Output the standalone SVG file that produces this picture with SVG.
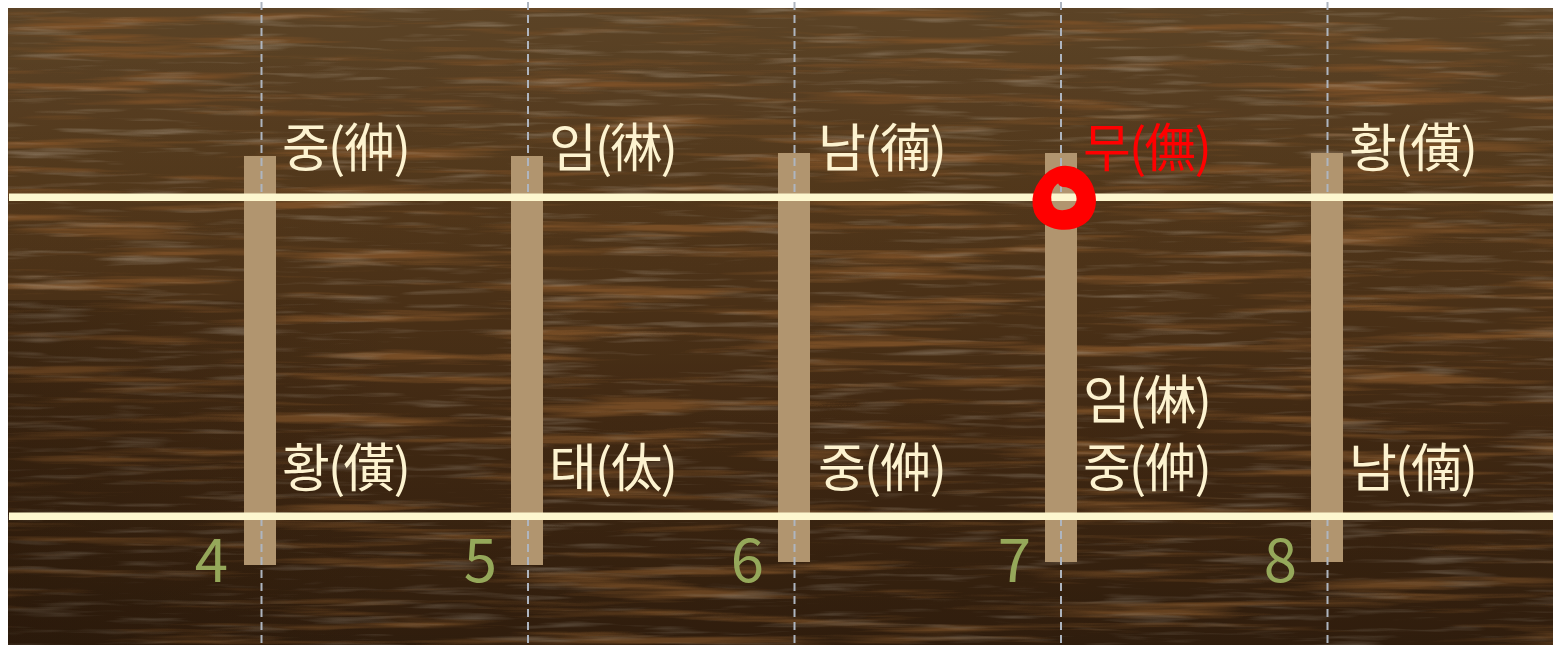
<svg xmlns="http://www.w3.org/2000/svg" width="1561" height="645" viewBox="0 0 1561 645">
<defs>
<linearGradient id="woodBase" x1="0" y1="0" x2="0" y2="1">
<stop offset="0" stop-color="#5b4326"/>
<stop offset="0.3" stop-color="#53381b"/>
<stop offset="0.65" stop-color="#462c14"/>
<stop offset="1" stop-color="#3b2410"/>
</linearGradient>
<linearGradient id="sideShade" x1="0" y1="0" x2="1" y2="0">
<stop offset="0" stop-color="#1a0e04" stop-opacity="0.25"/>
<stop offset="0.25" stop-color="#1a0e04" stop-opacity="0"/>
<stop offset="1" stop-color="#1a0e04" stop-opacity="0"/>
</linearGradient>
<filter id="grainDark" filterUnits="userSpaceOnUse" x="8" y="8" width="1545" height="637">
<feTurbulence type="fractalNoise" baseFrequency="0.004 0.085" numOctaves="4" seed="7"/>
<feColorMatrix type="matrix" values="0 0 0 0 0.2  0 0 0 0 0.08  0 0 0 0 0.02  4 0 0 0 -2.1"/>
</filter>
<filter id="grainLight" filterUnits="userSpaceOnUse" x="8" y="8" width="1545" height="637">
<feTurbulence type="fractalNoise" baseFrequency="0.01 0.14" numOctaves="3" seed="21"/>
<feColorMatrix type="matrix" values="0 0 0 0 0.52  0 0 0 0 0.44  0 0 0 0 0.34  1.1 0 0 0 -0.6"/>
</filter>
<linearGradient id="shade" x1="0" y1="0" x2="0" y2="1">
<stop offset="0" stop-color="#000" stop-opacity="0"/>
<stop offset="0.55" stop-color="#000" stop-opacity="0.05"/>
<stop offset="1" stop-color="#000" stop-opacity="0.2"/>
</linearGradient>
</defs>
<style>
.bar{fill:#b1956f}
.dash{stroke:#aeb5c0;stroke-width:2;stroke-dasharray:8 5;fill:none}
.str{fill:#fdf7cf}
.lbl{font-family:"Noto Sans CJK KR","Noto Sans CJK SC",sans-serif;font-size:52px;letter-spacing:-2px;fill:#fdf3d0}
.red{fill:#ff0000}
.num{font-family:"Noto Sans CJK KR","Noto Sans",sans-serif;font-size:60px;fill:#95a85a;text-anchor:end}
</style>
<rect width="1561" height="645" fill="#ffffff"/>
<g id="wood">
<rect x="8" y="8" width="1545" height="637" fill="url(#woodBase)"/>
<rect x="8" y="8" width="1545" height="637" filter="url(#grainDark)"/>
<rect x="8" y="8" width="1545" height="637" filter="url(#grainLight)"/>
<rect x="8" y="8" width="1545" height="637" fill="url(#shade)"/>
<rect x="8" y="300" width="1545" height="345" fill="url(#sideShade)"/>
</g>
<g id="frets">
<rect id="fret4" class="bar" x="244" y="156" width="32" height="409"/>
<rect id="fret5" class="bar" x="511" y="156" width="32" height="409"/>
<rect id="fret6" class="bar" x="778" y="153" width="32" height="409"/>
<rect id="fret7" class="bar" x="1045" y="153" width="32" height="409"/>
<rect id="fret8" class="bar" x="1311" y="153" width="32" height="409"/>
</g>
<g id="guides">
<path class="dash" d="M261.5,2V197M261.5,518V645"/>
<path class="dash" d="M528,2V197M528,518V645"/>
<path class="dash" d="M794.5,2V197M794.5,518V645"/>
<path class="dash" d="M1061,2V197M1061,518V645"/>
<path class="dash" d="M1327.5,2V197M1327.5,518V645"/>
</g>
<g id="strings">
<rect class="str" x="9" y="193.5" width="1544" height="7.5"/>
<rect class="str" x="9" y="512.5" width="1544" height="7.5"/>
</g>
<g id="col4">
<text class="lbl" x="282" y="167">중(&#x38E1;)</text>
<text class="lbl" x="282" y="487">황(&#x50D9;)</text>
<text class="num" x="228" y="582">4</text>
</g>
<g id="col5">
<text class="lbl" x="549" y="167">임(&#x38E9;)</text>
<text class="lbl" x="549" y="487">태(&#x3440;)</text>
<text class="num" x="497" y="582">5</text>
</g>
<g id="col6">
<text class="lbl" x="818" y="167">남(&#x38EE;)</text>
<text class="lbl" x="818" y="487">중(&#x3456;)</text>
<text class="num" x="764" y="582">6</text>
</g>
<g id="col7">
<text class="lbl red" x="1083" y="167">무(&#x3487;)</text>
<text class="lbl" x="1083" y="419">임(&#x3463;)</text>
<text class="lbl" x="1083" y="487">중(&#x3456;)</text>
<text class="num" x="1031" y="582">7</text>
</g>
<g id="col8">
<text class="lbl" x="1349" y="167">황(&#x50D9;)</text>
<text class="lbl" x="1349" y="487">남(&#x3472;)</text>
<text class="num" x="1297" y="582">8</text>
</g>
<g id="mark">
<path d="M1058,175 C1042,178 1034,196 1039,211 C1045,226 1072,230 1085,217 C1096,204 1091,180 1073,172 C1058,167 1043,178 1041,193 C1039,208 1050,221 1067,220 C1082,219 1092,206 1088,191 C1085,179 1069,172 1057,178 C1046,184 1043,200 1050,210 C1058,219 1077,216 1081,203 C1084,192 1075,182 1063,182" fill="none" stroke="#ff0000" stroke-width="10" stroke-linecap="round" stroke-linejoin="round"/>
</g>
</svg>
